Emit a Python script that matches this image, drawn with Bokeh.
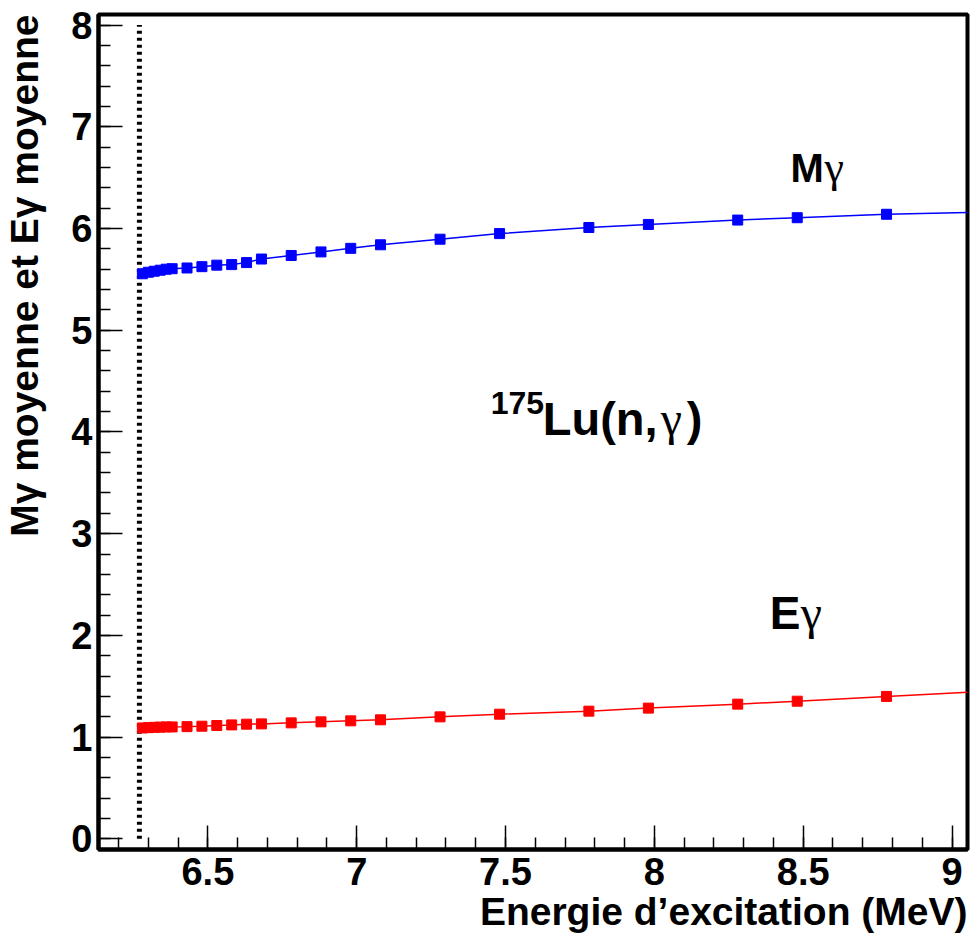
import numpy as np
from bokeh.plotting import figure
from bokeh.models import Label, SingleIntervalTicker, NumeralTickFormatter, Range1d, Title
from bokeh.embed import file_html
from bokeh.resources import INLINE

# ---- data ----
energy = [6.28, 6.30, 6.32, 6.34, 6.36, 6.38, 6.43, 6.48, 6.53, 6.58, 6.63, 6.68,
          6.78, 6.88, 6.98, 7.08, 7.28, 7.48, 7.78, 7.98, 8.28, 8.48, 8.78]
m_gamma = [5.555, 5.570, 5.580, 5.590, 5.600, 5.605, 5.612, 5.625, 5.640, 5.645, 5.665, 5.700,
           5.735, 5.770, 5.805, 5.840, 5.895, 5.950, 6.010, 6.040, 6.083, 6.106, 6.140]
e_gamma = [1.090, 1.093, 1.096, 1.098, 1.100, 1.100, 1.103, 1.107, 1.114, 1.120, 1.127, 1.130,
           1.140, 1.150, 1.160, 1.170, 1.199, 1.225, 1.255, 1.285, 1.324, 1.353, 1.400]
fit_end_energy = 9.052
m_fit_end = 6.157
e_fit_end = 1.442
sn_energy = 6.27          # neutron separation energy (dotted line)
sn_line_top = 8.0

x_min, x_max = 6.1326, 9.052
y_min, y_max = -0.105, 8.104

x_title = "Energie d\u2019excitation (MeV)"
y_title = "Mγ moyenne et Eγ moyenne"

FONT = "Liberation Sans"
GREEK = "Liberation Serif"

SHIFT = 23  # figure pulled left so the wide left panel keeps the frame in place

p = figure(width=972 + SHIFT, height=936,
           x_range=Range1d(x_min, x_max), y_range=Range1d(y_min, y_max),
           output_backend="svg", toolbar_location=None,
           min_border_left=97 + SHIFT, min_border_right=5, min_border_top=14, min_border_bottom=87)
p.margin = (0, 0, 0, -SHIFT)

p.xgrid.visible = False
p.ygrid.visible = False
p.background_fill_color = "white"
p.border_fill_color = "white"
p.outline_line_color = "black"
p.outline_line_width = 4
p.outline_line_alpha = 1.0

for ax, interval in ((p.xaxis[0], 0.5), (p.yaxis[0], 1.0)):
    ax.ticker = SingleIntervalTicker(interval=interval, num_minor_ticks=5)
    ax.formatter = NumeralTickFormatter(format="0.[0]")
    ax.major_tick_in = 24
    ax.major_tick_out = 0
    ax.minor_tick_in = 12
    ax.minor_tick_out = 0
    ax.major_tick_line_width = 1.5
    ax.minor_tick_line_width = 1.5
    ax.major_tick_line_color = "black"
    ax.minor_tick_line_color = "black"
    ax.axis_line_width = 4
    ax.axis_line_color = "black"
    ax.major_label_text_font = FONT
    ax.major_label_text_font_style = "bold"
    ax.major_label_text_font_size = "38px"
    ax.major_label_text_color = "black"

p.xaxis.major_label_standoff = 8
p.yaxis.major_label_standoff = 6

# axis titles, right-aligned as in the reference
p.add_layout(Title(text=x_title, align="right", text_font=FONT, text_font_style="bold",
                   text_font_size="39px", text_color="black", standoff=0, offset=0), "below")
p.add_layout(Title(text=y_title, align="right", text_font=FONT, text_font_style="bold",
                   text_font_size="39px", text_color="black", standoff=46, offset=0), "left")

# neutron separation energy
p.line(x=[sn_energy, sn_energy], y=[0, sn_line_top], line_color="black",
       line_width=5, line_dash="3 4", line_cap="butt")

# fits (lines) and points
p.line(x=energy + [fit_end_energy], y=m_gamma + [m_fit_end], line_color="blue", line_width=1.5)
p.line(x=energy + [fit_end_energy], y=e_gamma + [e_fit_end], line_color="red", line_width=1.5)
p.scatter(x=energy, y=m_gamma, marker="square", size=10, fill_color="blue", line_color="blue")
p.scatter(x=energy, y=e_gamma, marker="square", size=10, fill_color="red", line_color="red")

def lab(x, y, text, size, font=FONT, style="bold", x_offset=0):
    p.add_layout(Label(x=x, y=y, text=text, text_font=font, text_font_style=style,
                       text_font_size=size, text_color="black", text_baseline="alphabetic",
                       x_offset=x_offset))

# "Mγ"
lab(8.457, 6.597, "M", "40px")
lab(8.457, 6.597, "γ", "44px", font=GREEK, style="normal", x_offset=34)
# "Eγ"
lab(8.388, 2.223, "E", "46px")
lab(8.388, 2.223, "γ", "48px", font=GREEK, style="normal", x_offset=31)
# "175Lu(n,γ)"
lab(7.450, 4.287, "175", "32px")
lab(7.625, 4.136, "Lu(n,", "47px")
lab(7.625, 4.136, "γ", "48px", font=GREEK, style="normal", x_offset=118)
lab(7.625, 4.136, ")", "47px", x_offset=144)

open("out.html", "w").write(file_html(p, INLINE))
